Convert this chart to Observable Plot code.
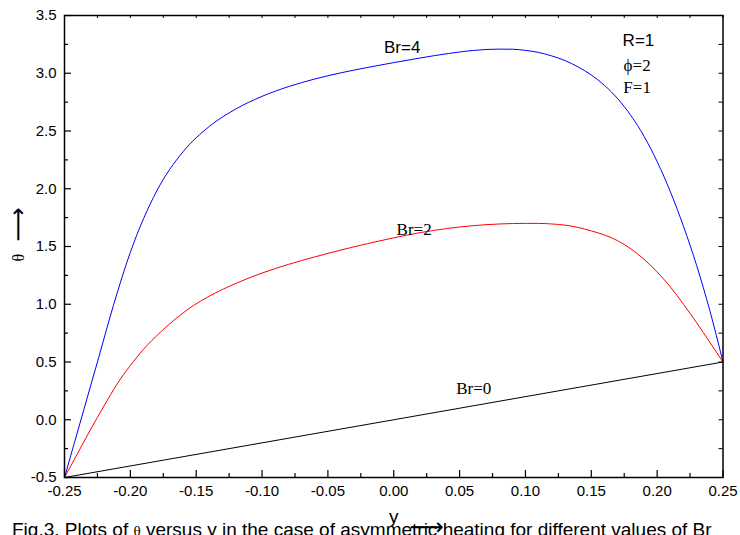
<!DOCTYPE html>
<html><head><meta charset="utf-8">
<script src="https://cdn.jsdelivr.net/npm/d3@7"></script>
<script src="https://cdn.jsdelivr.net/npm/@observablehq/plot@0.6"></script>
<style>
body{margin:0;background:#fff;}
#wrap{position:relative;width:740px;height:535px;overflow:hidden;background:#fff;}
#cap{position:absolute;left:12px;top:520px;font-family:"Liberation Sans",Arial,sans-serif;font-size:19px;line-height:19px;white-space:nowrap;color:#000;}
#cap .th{font-family:"Liberation Serif",serif;font-size:15px;}
</style></head><body>
<div id="wrap"><div id="chart"></div><div id="cap">Fig.3. Plots of <span class="th">θ</span> versus y in the case of asymmetric heating for different values of Br</div></div>
<script>
// Br = 4 (blue)
const br4Y     = [-0.25, -0.2353, -0.224, -0.2126, -0.20, -0.18, -0.16, -0.14, -0.12, -0.10, -0.08, -0.06, -0.04, -0.02, 0.00, 0.02, 0.0416, 0.06, 0.08, 0.09, 0.10, 0.11, 0.12, 0.13, 0.14, 0.15, 0.16, 0.17, 0.18, 0.19, 0.20, 0.21, 0.22, 0.23, 0.24, 0.25];
const br4Theta = [-0.5,  0.088,   0.54,   1.0,     1.45,  1.98,  2.32,  2.54,  2.69,  2.80,  2.884, 2.95,  3.004, 3.05,  3.092, 3.132, 3.171, 3.197, 3.209, 3.208, 3.198, 3.18, 3.15, 3.11, 3.055, 2.985, 2.895, 2.78, 2.635, 2.455, 2.235, 1.975, 1.675, 1.335, 0.945, 0.5];
// Br = 2 (red)
const br2Y     = [-0.25, -0.24, -0.23, -0.22, -0.21, -0.20, -0.19, -0.177, -0.165, -0.152, -0.14, -0.12, -0.10, -0.08, -0.06, -0.04, -0.02, 0.00, 0.02, 0.04, 0.06, 0.08, 0.10, 0.11, 0.12, 0.13, 0.14, 0.15, 0.16, 0.17, 0.18, 0.19, 0.20, 0.21, 0.22, 0.23, 0.24, 0.25];
const br2Theta = [-0.5,  -0.29, -0.08, 0.12,  0.31,  0.47,  0.61,  0.76,   0.88,   0.99,   1.07,  1.18,  1.27,  1.345, 1.41,  1.47,  1.525, 1.575, 1.62, 1.655, 1.68, 1.695, 1.70, 1.70, 1.695, 1.685, 1.665, 1.635, 1.60, 1.55, 1.48, 1.39, 1.28, 1.15, 1.00, 0.84, 0.67, 0.5];
// Br = 0 (black)
const br0Y     = [-0.25, 0.0, 0.25];
const br0Theta = [-0.5,  0.0, 0.5];

// ticks
const xMajor = [-0.25, -0.20, -0.15, -0.10, -0.05, 0.00, 0.05, 0.10, 0.15, 0.20, 0.25];
const xMinor = [-0.225, -0.175, -0.125, -0.075, -0.025, 0.025, 0.075, 0.125, 0.175, 0.225];
const yMajor = [-0.5, 0.0, 0.5, 1.0, 1.5, 2.0, 2.5, 3.0, 3.5];
const yMinor = [-0.25, 0.25, 0.75, 1.25, 1.75, 2.25, 2.75, 3.25];

// annotations
const sansLabels = [
  {x: 0.0064, y: 3.226, text: "Br=4", anchor: "middle"},
  {x: 0.1858, y: 3.284, text: "R=1", anchor: "start"}
];
const serifLabels = [
  {x: 0.0155, y: 1.646, text: "Br=2", anchor: "middle"},
  {x: 0.0608, y: 0.269, text: "Br=0", anchor: "middle"},
  {x: 0.1848, y: 3.067, text: "ϕ=2", anchor: "start"},
  {x: 0.1848, y: 2.880, text: "F=1", anchor: "start"}
];

const toRows = (ys, ts) => ys.map((v, i) => ({y: v, theta: ts[i]}));
const r4 = toRows(br4Y, br4Theta), r2 = toRows(br2Y, br2Theta), r0 = toRows(br0Y, br0Theta);

const W = 740, H = 535, mL = 64, mR = 17.5, mT = 15, mB = 58;
const FW = W - mL - mR, FH = H - mT - mB;

const chart = Plot.plot({
  width: W, height: H,
  marginLeft: mL, marginRight: mR, marginTop: mT, marginBottom: mB,
  x: {domain: [-0.25, 0.25]},
  y: {domain: [-0.5, 3.5]},
  style: {fontFamily: "'Liberation Sans', Arial, sans-serif", fontSize: "15px", color: "black", background: "white"},
  marks: [
    Plot.line(r0, {x: "y", y: "theta", stroke: "black", strokeWidth: 1}),
    Plot.line(r2, {x: "y", y: "theta", stroke: "#ff0000", strokeWidth: 1, curve: "monotone-x"}),
    Plot.line(r4, {x: "y", y: "theta", stroke: "#0000ff", strokeWidth: 1, curve: "monotone-x"}),
    Plot.ruleX(xMajor, {x: d => d, insetTop: FH - 7, stroke: "black", strokeWidth: 1.2}),
    Plot.ruleX(xMinor, {x: d => d, insetTop: FH - 4, stroke: "black", strokeWidth: 1.2}),
    Plot.ruleX(xMajor.concat(xMinor), {x: d => d, insetBottom: FH - 3, stroke: "black", strokeWidth: 1}),
    Plot.ruleY(yMajor, {y: d => d, insetRight: FW - 7, stroke: "black", strokeWidth: 1.2}),
    Plot.ruleY(yMinor, {y: d => d, insetRight: FW - 4, stroke: "black", strokeWidth: 1.2}),
    Plot.ruleY(yMajor.concat(yMinor), {y: d => d, insetLeft: FW - 4, stroke: "black", strokeWidth: 1}),
    Plot.frame({stroke: "black", strokeWidth: 1.5}),
    Plot.axisX(xMajor, {tickSize: 0, tickPadding: 8, tickFormat: d => d.toFixed(2), label: null, fontSize: 15}),
    Plot.axisY(yMajor, {tickSize: 0, tickPadding: 8, tickFormat: d => d.toFixed(1), label: null, fontSize: 15}),
    Plot.text(sansLabels, {x: "x", y: "y", text: "text", textAnchor: d => d.anchor, fontSize: 17, fill: "black"}),
    Plot.text(serifLabels, {x: "x", y: "y", text: "text", textAnchor: d => d.anchor, fontSize: 17, fontFamily: "'Liberation Serif', serif", fill: "black"}),
    Plot.text(["θ"], {text: d => d, frameAnchor: "left", dx: -46, dy: 15, rotate: -90, fontSize: 16, fontFamily: "'Liberation Serif', serif"}),
    Plot.text(["⟶"], {text: d => d, frameAnchor: "left", dx: -46, dy: -5, rotate: -90, fontSize: 24, fontFamily: "'DejaVu Sans', sans-serif"}),
    Plot.text(["y"], {text: d => d, frameAnchor: "bottom", dy: 45, fontSize: 19}),
    Plot.text(["⟶"], {text: d => d, frameAnchor: "bottom", dx: 33, dy: 57, fontSize: 24, fontFamily: "'DejaVu Sans', sans-serif"})
  ]
});
document.getElementById("chart").appendChild(chart);
</script>
</body></html>
